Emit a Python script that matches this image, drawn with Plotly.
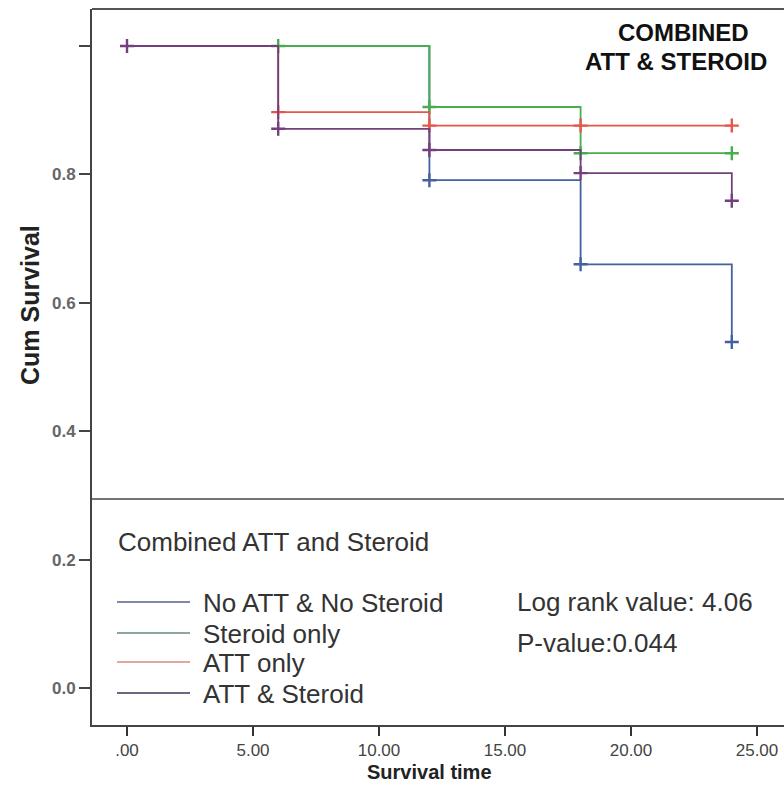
import plotly.graph_objects as go

# ---------------- data ----------------
times = [0, 6, 12, 18, 24]
group_names = ["No ATT & No Steroid", "Steroid only", "ATT only", "ATT & Steroid"]

surv_none = [1.0, 1.0, 0.791, 0.660, 0.539]
surv_steroid = [1.0, 1.0, 0.905, 0.833, 0.833]
surv_att = [1.0, 0.897, 0.876, 0.876, 0.876]
surv_both = [1.0, 0.871, 0.838, 0.802, 0.759]

censor_none = [12, 18, 24]
censor_steroid = [6, 12, 18, 24]
censor_att = [6, 12, 18, 24]
censor_both = [0, 6, 12, 18, 24]

x_tickvals = [0, 5, 10, 15, 20, 25]
x_ticktext = [".00", "5.00", "10.00", "15.00", "20.00", "25.00"]
y_tickvals = [0.0, 0.2, 0.4, 0.6, 0.8, 1.0]
y_ticktext = ["0.0", "0.2", "0.4", "0.6", "0.8", ""]

title_lines = ["COMBINED", "ATT & STEROID"]
legend_title = "Combined ATT and Steroid"
stats_text = ["Log rank value: 4.06", "P-value:0.044"]

# ---------------- styles ----------------
colors = ["#45609e", "#47ad4f", "#e4574a", "#733f7c"]
legend_colors = ["#8088aa", "#8aa896", "#e3a7a2", "#6f6680"]
series = [
    (surv_none, censor_none),
    (surv_steroid, censor_steroid),
    (surv_att, censor_att),
    (surv_both, censor_both),
]

W, H = 784, 791
ML, MR, MT, MB = 92, 0, 9, 66
PW, PH = W - ML - MR, H - MT - MB


def px(xp):
    return (xp - ML) / PW


def py(yp):
    return (H - MB - yp) / PH


FONT = "Liberation Sans, Arial, sans-serif"

fig = go.Figure()
for name, col, (surv, cens) in zip(group_names, colors, series):
    fig.add_trace(go.Scatter(
        x=times, y=surv, mode="lines", line=dict(color=col, width=1.8, shape="hv"),
        name=name, showlegend=False, hoverinfo="skip"))
    lookup = dict(zip(times, surv))
    fig.add_trace(go.Scatter(
        x=cens, y=[lookup[t] for t in cens], mode="markers",
        marker=dict(symbol="cross-thin", size=10, line=dict(color=col, width=2.4)),
        showlegend=False, hoverinfo="skip"))

shapes = [
    # top frame line
    dict(type="line", xref="paper", yref="paper", x0=0, x1=1, y0=1, y1=1,
         line=dict(color="#555555", width=2)),
    # legend box top line
    dict(type="line", xref="paper", yref="paper", x0=0, x1=1, y0=py(499), y1=py(499),
         line=dict(color="#444444", width=1.6)),
]
annotations = [
    dict(text="<b>" + title_lines[0] + "</b>", x=px(683), y=py(33), xref="paper", yref="paper",
         showarrow=False, font=dict(family=FONT, size=24, color="#111111"),
         xanchor="center", yanchor="middle"),
    dict(text="<b>" + title_lines[1] + "</b>", x=px(583), y=py(62), xref="paper", yref="paper",
         showarrow=False, font=dict(family=FONT, size=24, color="#111111"),
         xanchor="left", yanchor="middle"),
    dict(text=legend_title, x=px(116), y=py(542), xref="paper", yref="paper",
         showarrow=False, font=dict(family=FONT, size=26, color="#333333"),
         xanchor="left", yanchor="middle"),
    dict(text=stats_text[0], x=px(515), y=py(602), xref="paper", yref="paper",
         showarrow=False, font=dict(family=FONT, size=26, color="#333333"),
         xanchor="left", yanchor="middle"),
    dict(text=stats_text[1], x=px(515), y=py(643), xref="paper", yref="paper",
         showarrow=False, font=dict(family=FONT, size=26, color="#333333"),
         xanchor="left", yanchor="middle"),
    dict(text="<b>Cum Survival</b>", x=px(30), y=py(305), xref="paper", yref="paper",
         showarrow=False, textangle=-90, font=dict(family=FONT, size=25, color="#222222"),
         xanchor="center", yanchor="middle"),
    dict(text="<b>Survival time</b>", x=px(429), y=py(772), xref="paper", yref="paper",
         showarrow=False, font=dict(family=FONT, size=20, color="#222222"),
         xanchor="center", yanchor="middle"),
]
row_y = [602, 633, 662, 693]
for name, lc, yy in zip(group_names, legend_colors, row_y):
    shapes.append(dict(type="line", xref="paper", yref="paper", x0=px(117), x1=px(190),
                       y0=py(yy), y1=py(yy), line=dict(color=lc, width=2.2)))
    annotations.append(dict(text=name, x=px(201), y=py(yy + 1), xref="paper", yref="paper",
                            showarrow=False, font=dict(family=FONT, size=26, color="#333333"),
                            xanchor="left", yanchor="middle"))

x0_px, x_unit = 127, 25.2
y0_px, y_unit = 688, 642
x_range = [(ML - x0_px) / x_unit, (W - MR - x0_px) / x_unit]
y_range = [(y0_px - (H - MB)) / y_unit, (y0_px - MT) / y_unit]

fig.update_layout(
    width=W, height=H, autosize=False,
    margin=dict(l=ML, r=MR, t=MT, b=MB, pad=0),
    paper_bgcolor="white", plot_bgcolor="white",
    shapes=shapes, annotations=annotations,
    xaxis=dict(range=x_range, tickvals=x_tickvals, ticktext=x_ticktext,
               showgrid=False, zeroline=False, showline=True, linecolor="#444444",
               linewidth=2, ticks="outside", ticklen=9, tickwidth=2, tickcolor="#333333",
               tickfont=dict(family=FONT, size=17, color="#444444")),
    yaxis=dict(range=y_range, tickvals=y_tickvals,
               ticktext=["<b>" + t + "</b>" if t else "" for t in y_ticktext],
               showgrid=False, zeroline=False, showline=True, linecolor="#444444",
               linewidth=2, ticks="outside", ticklen=11, tickwidth=2, tickcolor="#444444",
               tickfont=dict(family=FONT, size=17, color="#666666")),
    showlegend=False,
)

fig.write_html("out.html")
